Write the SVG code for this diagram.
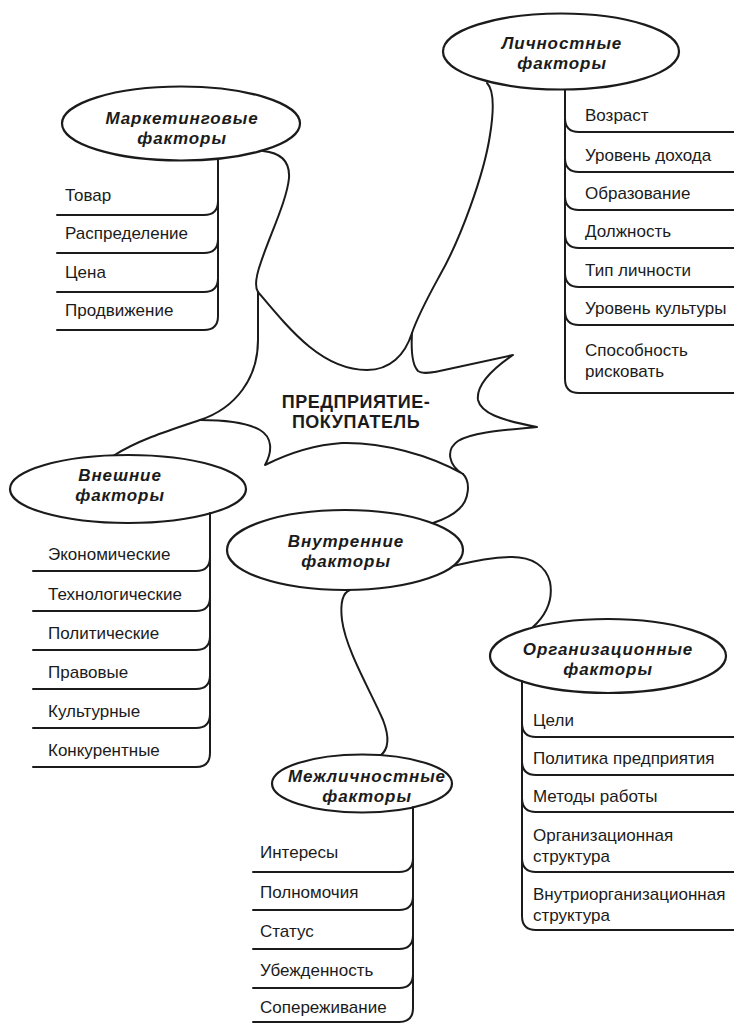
<svg xmlns="http://www.w3.org/2000/svg" width="734" height="1024" viewBox="0 0 734 1024">
<style>
.ln{fill:none;stroke:#1b1b1b;stroke-width:2;stroke-linecap:round;stroke-linejoin:round}
.el{fill:#fff;stroke:#1b1b1b;stroke-width:2.2}
.t{font-family:"Liberation Sans",Arial,sans-serif;font-size:17px;fill:#1b1b1b}
.h{font-family:"Liberation Sans",Arial,sans-serif;font-size:17px;font-weight:bold;font-style:italic;fill:#1b1b1b;text-anchor:middle;letter-spacing:0.9px}
.c{font-family:"Liberation Sans",Arial,sans-serif;font-size:18px;font-weight:bold;fill:#1b1b1b;text-anchor:middle;letter-spacing:0.5px}
</style>
<rect width="734" height="1024" fill="#fff"/>

<!-- arms linking the central splash to each factor group -->
<g id="connectors">
  <path class="ln" d="M263,151 C283,153 290,163 289,178 C287,200 270,235 261,262 C256,276 254,286 258,292"/>
  <path class="ln" d="M487,83 C494,90 494,110 490,135 C484,175 460,240 440,275 C428,297 418,315 412,333"/>
  <path class="ln" d="M200,420 C170,430 138,440 113,456"/>
  <path class="ln" d="M463,474 C471,482 469,500 459,509 C452,516 442,520 433,523"/>
  <path class="ln" d="M453,566 C475,561 492,557 512,557 C532,557 546,566 550,582 C553,598 547,614 533,627"/>
  <path class="ln" d="M350,590 C342,593 340,603 342,620 C346,650 370,690 383,720 C390,738 388,750 380,756"/>
</g>

<!-- central splash -->
<g id="center">
  <path class="ln" d="M258,292 L258,340 C258,378 236,408 200,420 C222,420 246,422 260,430 C272,437 273,451 265,465 C285,455 312,445 342,443 C382,442 430,455 463,474 C449,466 445,450 458,441 C472,432 505,430 537,427 C500,420 481,413 478,400 C476,385 494,368 513,355 L435,372 C428,373 422,374 418,371 C412,365 411,350 412,333 C405,355 390,370 367,370 C322,370 290,330 258,292"/>
  <text class="c" x="356" y="408">ПРЕДПРИЯТИЕ-</text>
  <text class="c" x="356" y="428">ПОКУПАТЕЛЬ</text>
</g>

<g id="marketing">
  <ellipse class="el" cx="181" cy="123.5" rx="119" ry="37"/>
  <text class="h" x="182" y="124">Маркетинговые</text>
  <text class="h" x="182" y="144">факторы</text>
  <path class="ln" d="M218,159 V316 M57,215 H204 Q218,215 218,201 M57,253 H204 Q218,253 218,239 M57,292 H204 Q218,292 218,278 M57,330 H204 Q218,330 218,316"/>
  <text class="t" x="65" y="201">Товар</text>
  <text class="t" x="65" y="239">Распределение</text>
  <text class="t" x="65" y="278">Цена</text>
  <text class="t" x="65" y="316">Продвижение</text>
</g>

<g id="personal">
  <ellipse class="el" cx="561" cy="51.5" rx="118" ry="38"/>
  <text class="h" x="562" y="49">Личностные</text>
  <text class="h" x="562" y="69">факторы</text>
  <path class="ln" d="M565,90 V379 M565,118 Q565,132 579,132 H734 M565,158 Q565,172 579,172 H734 M565,196 Q565,210 579,210 H734 M565,234 Q565,248 579,248 H734 M565,273 Q565,287 579,287 H734 M565,311 Q565,325 579,325 H734 M565,379 Q565,393 579,393 H734"/>
  <text class="t" x="585" y="121">Возраст</text>
  <text class="t" x="585" y="161">Уровень дохода</text>
  <text class="t" x="585" y="199">Образование</text>
  <text class="t" x="585" y="237">Должность</text>
  <text class="t" x="585" y="276">Тип личности</text>
  <text class="t" x="585" y="314">Уровень культуры</text>
  <text class="t" x="585" y="356">Способность</text>
  <text class="t" x="585" y="377">рисковать</text>
</g>

<g id="external">
  <ellipse class="el" cx="128" cy="489" rx="118" ry="34"/>
  <text class="h" x="120" y="481">Внешние</text>
  <text class="h" x="120" y="501">факторы</text>
  <path class="ln" d="M210,513 V753 M33,571 H196 Q210,571 210,557 M33,611 H196 Q210,611 210,597 M33,650 H196 Q210,650 210,636 M33,689 H196 Q210,689 210,675 M33,728 H196 Q210,728 210,714 M33,767 H196 Q210,767 210,753"/>
  <text class="t" x="48" y="560">Экономические</text>
  <text class="t" x="48" y="600">Технологические</text>
  <text class="t" x="48" y="639">Политические</text>
  <text class="t" x="48" y="678">Правовые</text>
  <text class="t" x="48" y="717">Культурные</text>
  <text class="t" x="48" y="756">Конкурентные</text>
</g>

<g id="internal">
  <ellipse class="el" cx="345" cy="550" rx="118" ry="40"/>
  <text class="h" x="346" y="547">Внутренние</text>
  <text class="h" x="346" y="567">факторы</text>
</g>

<g id="organizational">
  <ellipse class="el" cx="608" cy="656" rx="118" ry="37"/>
  <text class="h" x="608" y="655">Организационные</text>
  <text class="h" x="608" y="675">факторы</text>
  <path class="ln" d="M522,681 V916 M522,723 Q522,737 536,737 H734 M522,761 Q522,775 536,775 H734 M522,798 Q522,812 536,812 H734 M522,858 Q522,872 536,872 H734 M522,916 Q522,930 536,930 H734"/>
  <text class="t" x="533" y="726">Цели</text>
  <text class="t" x="533" y="764">Политика предприятия</text>
  <text class="t" x="533" y="802">Методы работы</text>
  <text class="t" x="533" y="841">Организационная</text>
  <text class="t" x="533" y="862">структура</text>
  <text class="t" x="533" y="900">Внутриорганизационная</text>
  <text class="t" x="533" y="921">структура</text>
</g>

<g id="interpersonal">
  <ellipse class="el" cx="362" cy="783.5" rx="90" ry="29"/>
  <text class="h" x="367" y="782">Межличностные</text>
  <text class="h" x="367" y="802">факторы</text>
  <path class="ln" d="M413,807 V1008 M253,872 H399 Q413,872 413,858 M253,910 H399 Q413,910 413,896 M253,949 H399 Q413,949 413,935 M253,988 H399 Q413,988 413,974 M253,1022 H399 Q413,1022 413,1008"/>
  <text class="t" x="260" y="858">Интересы</text>
  <text class="t" x="260" y="898">Полномочия</text>
  <text class="t" x="260" y="937">Статус</text>
  <text class="t" x="260" y="976">Убежденность</text>
  <text class="t" x="260" y="1013">Сопереживание</text>
</g>
</svg>
